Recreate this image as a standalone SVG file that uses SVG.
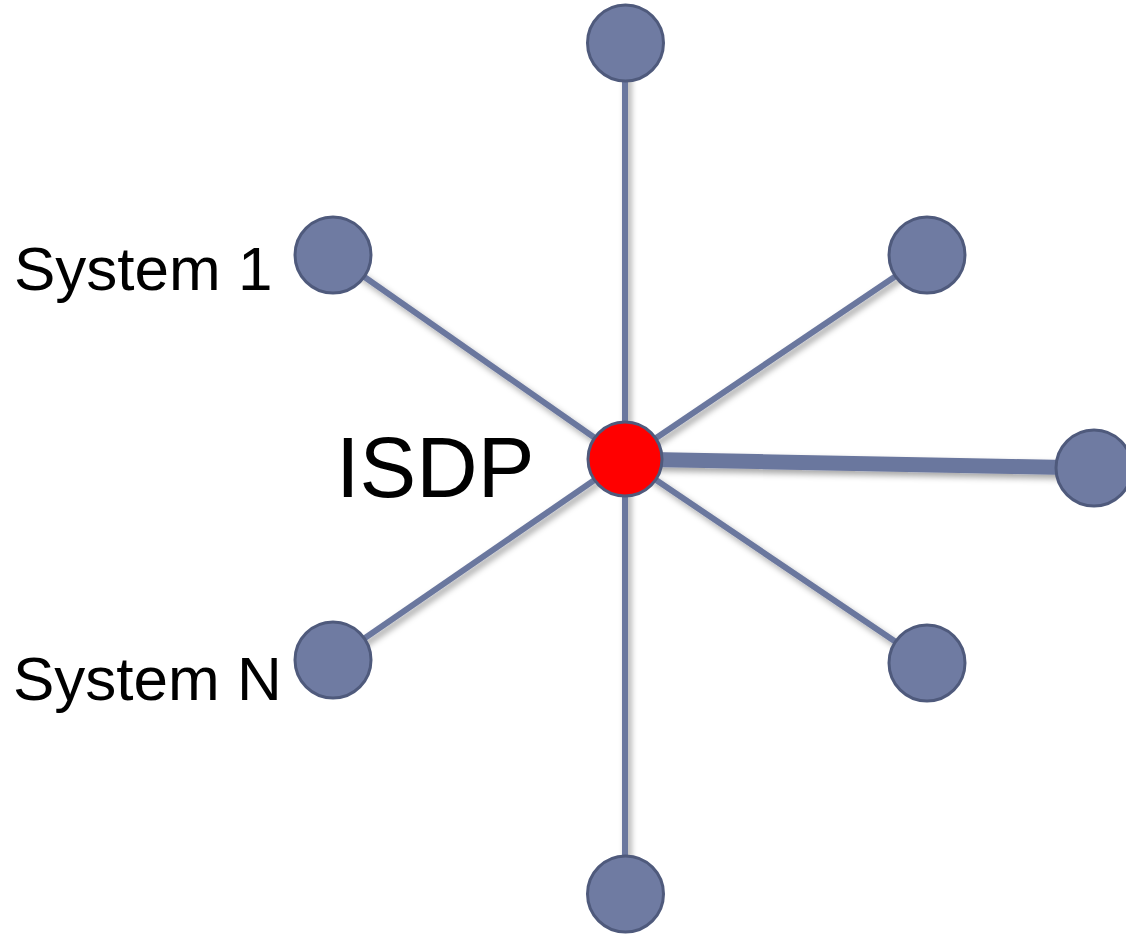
<svg xmlns="http://www.w3.org/2000/svg" width="1126" height="935" viewBox="0 0 1126 935">
<style>
.edge{stroke:#6b779e;stroke-width:6;fill:none}
.thick{stroke-width:15}
.node{fill:#6f7ba2;stroke:#4f5a7c;stroke-width:3}
.hub{fill:#ff0000;stroke:#4f5a7c;stroke-width:3}
.lbl{font-family:"Liberation Sans",Arial,sans-serif;fill:#000}
</style>
<defs>
<filter id="sh" x="-20%" y="-20%" width="140%" height="140%">
<feDropShadow dx="3" dy="4" stdDeviation="3" flood-color="#000" flood-opacity="0.35"/>
</filter>
</defs>
<rect width="1126" height="935" fill="#fff"/>
<g id="connectors" filter="url(#sh)">
<line class="edge" x1="625" y1="459" x2="625" y2="43"/>
<line class="edge" x1="625" y1="459" x2="333" y2="255"/>
<line class="edge" x1="625" y1="459" x2="927" y2="255"/>
<line class="edge thick" x1="625" y1="459" x2="1093" y2="468"/>
<line class="edge" x1="625" y1="459" x2="333" y2="660"/>
<line class="edge" x1="625" y1="459" x2="927" y2="663"/>
<line class="edge" x1="625" y1="459" x2="625" y2="894"/>
</g>
<g id="node-top"><circle class="node" cx="625.5" cy="43" r="38"/></g>
<g id="node-system1"><circle class="node" cx="333" cy="255" r="38"/><text class="lbl" x="14" y="290" font-size="62">System 1</text></g>
<g id="node-systemN"><circle class="node" cx="333" cy="660" r="38"/><text class="lbl" x="13" y="700" font-size="62">System N</text></g>
<g id="node-upper-right"><circle class="node" cx="927" cy="255" r="38"/></g>
<g id="node-right"><circle class="node" cx="1094" cy="468" r="38"/></g>
<g id="node-lower-right"><circle class="node" cx="927" cy="663" r="38"/></g>
<g id="node-bottom"><circle class="node" cx="625.5" cy="894" r="38"/></g>
<g id="node-isdp"><circle class="hub" cx="625" cy="459" r="37"/><text class="lbl" x="336" y="497" font-size="85">ISDP</text></g>
</svg>
